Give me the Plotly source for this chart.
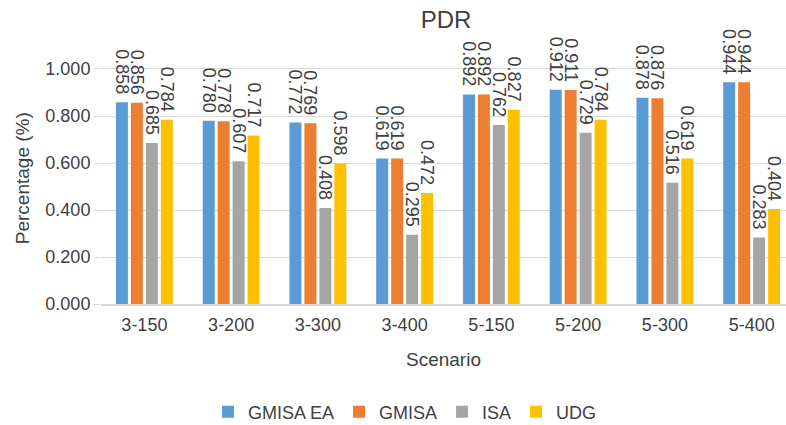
import plotly.graph_objects as go

categories = ["3-150", "3-200", "3-300", "3-400", "5-150", "5-200", "5-300", "5-400"]
gmisa_ea = [0.858, 0.780, 0.772, 0.619, 0.892, 0.912, 0.878, 0.944]
gmisa = [0.856, 0.778, 0.769, 0.619, 0.892, 0.911, 0.876, 0.944]
isa = [0.685, 0.607, 0.408, 0.295, 0.762, 0.729, 0.516, 0.283]
udg = [0.784, 0.717, 0.598, 0.472, 0.827, 0.784, 0.619, 0.404]

series = [
    ("GMISA EA", gmisa_ea, "#5B9BD5"),
    ("GMISA", gmisa, "#ED7D31"),
    ("ISA", isa, "#A5A5A5"),
    ("UDG", udg, "#FFC000"),
]

FONT = "Liberation Sans, Arial, sans-serif"
TXT = "#404040"

fig = go.Figure()
for name, vals, color in series:
    fig.add_trace(go.Bar(
        name=name, x=categories, y=vals,
        marker=dict(color=color, line=dict(width=0)),
        text=[f"{v:.3f}\u00a0" for v in vals],
        textposition="outside", textangle=90,
        constraintext="none", cliponaxis=False,
        textfont=dict(family=FONT, size=18, color=TXT),
    ))

fig.update_layout(
    width=786, height=425,
    margin=dict(l=101, r=0, t=36, b=121, autoexpand=False),
    paper_bgcolor="white", plot_bgcolor="white",
    barmode="group", bargap=0.31, bargroupgap=0.2,
    title=dict(text="PDR", x=(446 / 786), xanchor="center", y=0.955, yanchor="middle",
               font=dict(family=FONT, size=24, color=TXT)),
    font=dict(family=FONT, size=17, color=TXT),
    showlegend=True,
    legend=dict(orientation="h", xref="container", yref="container",
                x=405 / 786, xanchor="center", y=(425 - 412) / 425, yanchor="middle",
                font=dict(family=FONT, size=18, color=TXT), traceorder="normal",
                itemwidth=30),
    uniformtext=dict(mode=False),
    annotations=[dict(
        text="Percentage (%)", textangle=-90, showarrow=False,
        xref="paper", yref="paper", x=-0.115, y=(304 - 178) / 268,
        xanchor="center", yanchor="middle",
        font=dict(family=FONT, size=19, color=TXT),
    )],
)
fig.update_xaxes(
    range=[-0.5, 7.396], showgrid=False, showline=True, linecolor="#D9D9D9", linewidth=1.5,
    ticks="", ticklabelstandoff=4, automargin=False, tickfont=dict(family=FONT, size=18, color=TXT),
    title=dict(text="Scenario", font=dict(family=FONT, size=19, color=TXT), standoff=18),
)
fig.update_yaxes(
    range=[0, 1.1404], tickvals=[0, 0.2, 0.4, 0.6, 0.8, 1.0], tickformat=".3f",
    showgrid=True, gridcolor="#D9D9D9", gridwidth=1, zeroline=False, showline=False,
    ticks="outside", ticklen=6, tickcolor="#D9D9D9", automargin=False,
    tickfont=dict(family=FONT, size=18, color=TXT),
)

fig.write_html("out.html")
